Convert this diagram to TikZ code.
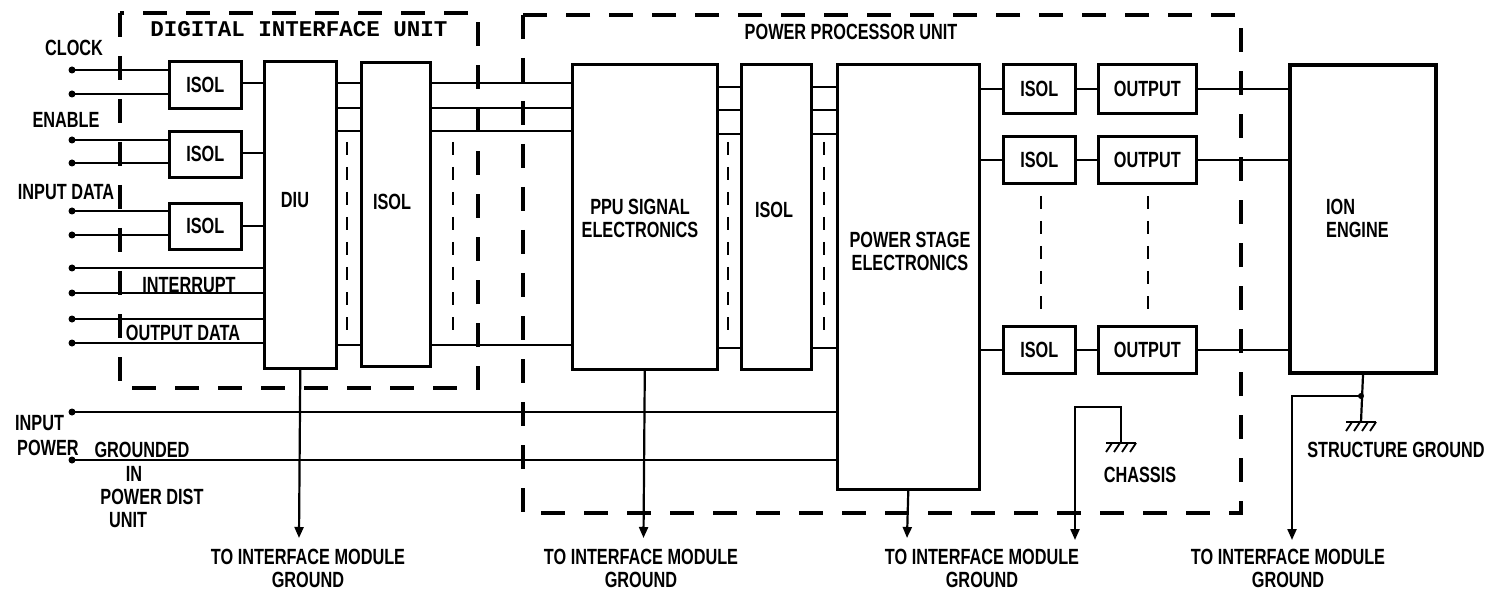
\documentclass[tikz,border=0pt]{standalone}
\usepackage{fontspec}
\newfontfamily\lbl[UprightFont={* Bold}, FakeStretch=0.74]{Liberation Sans}
\newfontfamily\monolbl[UprightFont={* Bold}]{Liberation Mono}
\usetikzlibrary{arrows.meta}
\begin{document}
\begin{tikzpicture}[x=1pt,y=-1pt,
  box/.style={draw, line width=2.6pt, anchor=north west, inner sep=0pt, font=\lbl\fontsize{22}{23}\selectfont, align=center},
  wire/.style={line width=2.2pt},
  unitbox/.style={line width=3.2pt, dash pattern=on 24pt off 19pt},
  multi/.style={line width=2.6pt, dash pattern=on 13pt off 12pt},
  lab/.style={font=\lbl\fontsize{22}{23}\selectfont, inner sep=0pt, align=center},
  gndarrow/.style={-{Triangle[length=11pt,width=9pt]}, line width=2.2pt},
  dot/.style={circle, fill, inner sep=0pt, minimum size=7pt},
  gsym/.pic={\draw[line width=2.2pt] (-15,0) -- (15,0);
     \foreach \i in {-12,-4,4,12} \draw[line width=1.8pt] (\i+3,0) -- (\i-3,9);}
]
\useasboundingbox (0,0) rectangle (1489,596);

% ---------- dashed unit outlines ----------
\coordinate (diuTL) at (120,13);
\coordinate (diuBR) at (478,388);
\coordinate (ppuTL) at (523,15);
\coordinate (ppuBR) at (1241,513);
\draw[unitbox] (diuTL) rectangle (diuBR);
\draw[unitbox] (ppuTL) rectangle (ppuBR);
\node[font=\monolbl\fontsize{22.5}{24}\selectfont, inner sep=0pt] (diutitle) at (299,29) {DIGITAL INTERFACE UNIT};
\node[lab] (pputitle) at (851,32) {POWER PROCESSOR UNIT};

% ---------- boxes ----------
\node[box, minimum width=72pt, minimum height=47pt] (isol1) at (168,60) {ISOL};
\node[box, minimum width=72pt, minimum height=46pt] (isol2) at (168,130) {ISOL};
\node[box, minimum width=72pt, minimum height=46pt] (isol3) at (168,202) {ISOL};
\node[box, minimum width=72pt, minimum height=307pt] (diu) at (263,60) {};
\node[box, minimum width=69pt, minimum height=304pt] (isolA) at (360,61) {};
\node[box, minimum width=145pt, minimum height=305pt] (ppusig) at (571,63) {};
\node[box, minimum width=70pt, minimum height=305pt] (isolB) at (740,63) {};
\node[box, minimum width=142pt, minimum height=425pt] (pse) at (836,63) {};
\node[box, minimum width=72pt, minimum height=49pt] (isolC1) at (1002,63) {ISOL};
\node[box, minimum width=72pt, minimum height=47pt] (isolC2) at (1002,135) {ISOL};
\node[box, minimum width=72pt, minimum height=47pt] (isolC3) at (1002,325) {ISOL};
\node[box, minimum width=98pt, minimum height=49pt] (out1) at (1097,63) {OUTPUT};
\node[box, minimum width=98pt, minimum height=47pt] (out2) at (1097,135) {OUTPUT};
\node[box, minimum width=98pt, minimum height=47pt] (out3) at (1097,325) {OUTPUT};
\node[box, line width=4pt, minimum width=146pt, minimum height=308pt] (ion) at (1288,63) {};

% box labels
\node[lab] (diulab) at (295,200) {DIU};
\node[lab] (isolAlab) at (392,202) {ISOL};
\node[lab] (ppulab) at (640,218) {PPU SIGNAL\\ELECTRONICS};
\node[lab] (isolBlab) at (774,210) {ISOL};
\node[lab] (pselab) at (910,251) {POWER STAGE\\ELECTRONICS};
\node[lab, anchor=west, align=left] (ionlab) at (1326,218) {ION\\ENGINE};

% ---------- input signal wires ----------
\foreach \n/\y/\b in {c1/70/isol1, c2/94/isol1, e1/140/isol2, e2/163/isol2, d1/211/isol3, d2/235/isol3, i1/268/diu, i2/293/diu, o1/319/diu, o2/343/diu}{
  \node[dot] (\n) at (72,\y) {};
  \draw[wire] (\n.center) -- (\n -| \b.west);
}
\node[lab] (clocklab) at (74,48) {CLOCK};
\node[lab] (enablelab) at (66,120) {ENABLE};
\node[lab] (inputdatalab) at (66,192) {INPUT DATA};
\node[lab] (intlab) at (189,285) {INTERRUPT};
\node[lab] (outdatalab) at (183,333) {OUTPUT DATA};

% ISOL -> DIU
\coordinate (ya) at (0,83);
\coordinate (yb) at (0,153);
\coordinate (yc) at (0,226);
\draw[wire] (isol1.east |- ya) -- (diu.west |- ya);
\draw[wire] (isol2.east |- yb) -- (diu.west |- yb);
\draw[wire] (isol3.east |- yc) -- (diu.west |- yc);

% bus lines
\foreach \y in {83,108,131,345}{
  \coordinate (b) at (0,\y);
  \draw[wire] (diu.east |- b) -- (isolA.west |- b);
  \draw[wire] (isolA.east |- b) -- (ppusig.west |- b);
}
\foreach \y in {87,110,134,348}{
  \coordinate (b) at (0,\y);
  \draw[wire] (ppusig.east |- b) -- (isolB.west |- b);
  \draw[wire] (isolB.east |- b) -- (pse.west |- b);
}
% multi-line indicators
\foreach \x in {347,453,728,824}{
  \coordinate (mt) at (\x,142);
  \coordinate (mb) at (\x,336);
  \draw[multi] (mt) -- (mb);
}
\foreach \x in {1041,1148}{
  \coordinate (mt) at (\x,196);
  \coordinate (mb) at (\x,318);
  \draw[multi] (mt) -- (mb);
}

% output chain
\foreach \k in {1,2,3}{
  \draw[wire] (pse.east |- isolC\k.west) -- (isolC\k.west);
  \draw[wire] (isolC\k.east) -- (out\k.west);
  \draw[wire] (out\k.east) -- (ion.west |- out\k.east);
}

% ---------- input power ----------
\node[dot] (p1) at (72,412) {};
\node[dot] (p2) at (72,460) {};
\draw[wire] (p1.center) -- (p1 -| pse.west);
\draw[wire] (p2.center) -- (p2 -| pse.west);
\node[lab, anchor=west] (inlab) at (15,423) {INPUT};
\node[lab, anchor=west] (pwlab) at (17,448) {POWER};
\node[lab] (g1) at (142,450) {GROUNDED};
\node[lab] (g2) at (134,474) {IN};
\node[lab] (g3) at (152,497) {POWER DIST};
\node[lab] (g4) at (128,520) {UNIT};

% ---------- grounds ----------
\coordinate (a1) at (299,538);
\coordinate (a2) at (643.5,538);
\coordinate (a3) at (907,538);
\draw[gndarrow] (diu.south) -- (a1);
\draw[gndarrow] (ppusig.south) -- (a2);
\draw[gndarrow] (pse.south) -- (a3);

% chassis
\coordinate (chg) at (1121,443);
\coordinate (cht) at (1121,407);
\coordinate (chl) at (1075,407);
\coordinate (cha) at (1075,540);
\draw[gndarrow] (chg) -- (cht) -- (chl) -- (cha);
\pic at (chg) {gsym};
\node[lab] (chlab) at (1140,475) {CHASSIS};

% structure
\coordinate (sj) at (1361,396);
\coordinate (sg) at (1361,422);
\coordinate (sl) at (1292,396);
\coordinate (sa) at (1292,540);
\draw[wire] (ion.south) -- (sg);
\draw[gndarrow] (sj) -- (sl) -- (sa);
\node[dot, minimum size=6pt] (sdot) at (sj) {};
\pic at (sg) {gsym};
\node[lab] (stlab) at (1396,450) {STRUCTURE GROUND};

\node[lab] (t1) at (308,568) {TO INTERFACE MODULE\\GROUND};
\node[lab] (t2) at (641,568) {TO INTERFACE MODULE\\GROUND};
\node[lab] (t3) at (982,568) {TO INTERFACE MODULE\\GROUND};
\node[lab] (t4) at (1288,568) {TO INTERFACE MODULE\\GROUND};
\end{tikzpicture}
\end{document}
